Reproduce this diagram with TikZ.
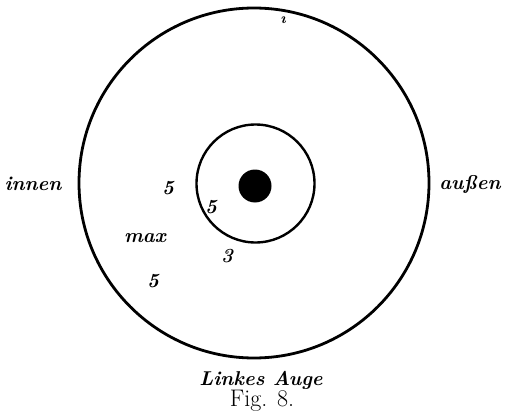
\documentclass[tikz,border=0pt]{standalone}
\usepackage{fontspec}
\usepackage{tikz}

\begin{document}
\begin{tikzpicture}[x=1pt,y=-1pt,every node/.style={font=\fontsize{20}{23}\selectfont\bfseries\itshape,inner sep=0pt}]
\useasboundingbox (0,0) rectangle (506,412);
\draw[line width=2.8pt] (254,183) circle (175); \draw[line width=2.4pt] (255.5,183.5) circle (59);
\fill (255,186) circle (16.5);
\node (top) at (283,20) {\fontsize{15}{16}\selectfont\i};
\node (innen) at (33,184) {innen}; \node (aussen) at (470,184) {außen};
\node (fiveA) at (168,188) {5}; \node (fiveB) at (211,207) {5};
\node (max) at (145,238) {max}; \node (three) at (227,256) {3};
\node (fiveC) at (153,281) {5};
\node (eye) at (261,380) {Linkes Auge};
\node[font=\fontsize{24}{27}\selectfont] (fig) at (262,401) {Fig. 8.};
\end{tikzpicture}
\end{document}
